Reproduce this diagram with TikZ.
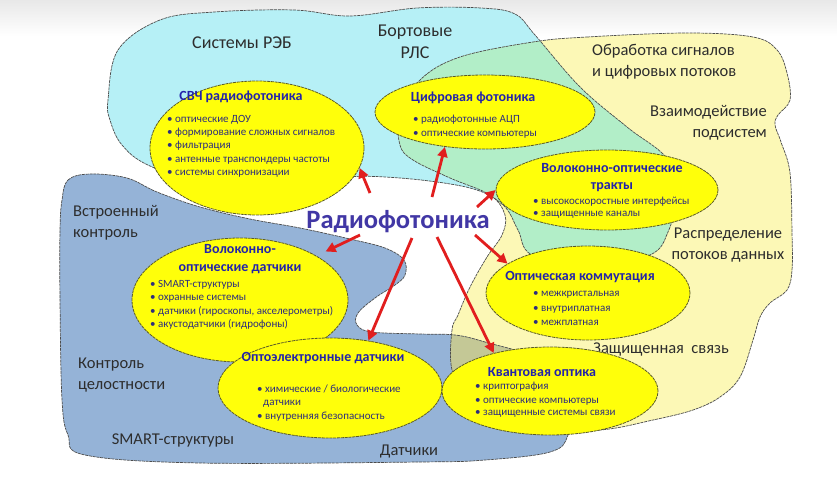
\documentclass[tikz,border=0pt]{standalone}
\usepackage{fontspec}
\setmainfont{Carlito}
\usetikzlibrary{arrows.meta,shapes.geometric}
\definecolor{cyanr}{RGB}{182,240,246}
\definecolor{yelr}{RGB}{252,248,182}
\definecolor{greenr}{RGB}{178,238,200}
\definecolor{bluer}{RGB}{149,179,215}
\definecolor{oliver}{RGB}{196,200,150}
\definecolor{bubyel}{RGB}{255,255,10}
\definecolor{bubline}{RGB}{90,90,40}
\definecolor{lblgray}{RGB}{45,45,45}
\definecolor{ttlblue}{RGB}{35,35,170}
\definecolor{itmblue}{RGB}{45,45,125}
\definecolor{rfblue}{RGB}{65,55,165}
\definecolor{arrred}{RGB}{225,30,30}
\tikzset{
  region/.style={draw=black!70, line width=0.7pt, dash pattern=on 3pt off 0.8pt},
  bub/.style={ellipse, draw=bubline, fill=bubyel, line width=0.8pt, dash pattern=on 3pt off 0.8pt, inner sep=0pt},
  lbl/.style={text=lblgray, font=\fontsize{16.5}{21}\selectfont, inner sep=0pt},
  biglbl/.style={text=lblgray, font=\fontsize{18}{22}\selectfont, inner sep=0pt},
  ttl/.style={text=ttlblue, font=\bfseries\fontsize{14}{16}\selectfont, inner sep=0pt, text height=10pt, text depth=3pt},
  itm/.style={text=itmblue, anchor=west, font=\fontsize{11}{12}\selectfont, inner sep=0pt, text height=7.5pt, text depth=2.5pt},
  arr/.style={draw=arrred, line width=2.8pt, -{Triangle[length=10pt,width=10pt]}}
}
\def\cyanpath{plot[smooth cycle, tension=0.6] coordinates {(108,100) (118,50) (160,20) (214,12) (294,10) (350,16) (417,8) (481,8) (515,14) (535,35) (580,87) (627,127) (668,160) (675,200) (668,232) (650,255) (590,268) (532,255) (518,230) (503,205) (470,188) (400,178) (340,178) (300,195) (220,190) (150,166) (122,145) (110,120)}}
\def\yelpath{plot[smooth cycle, tension=0.6] coordinates {(533,42) (587,37) (687,33) (753,37) (777,50) (787,73) (790,100) (778,115) (775,125) (781,142) (790,173) (792,233) (792,270) (787,290) (770,303) (760,317) (753,340) (740,377) (720,397) (693,410) (653,420) (600,430) (530,430) (470,405) (452,370) (452,330) (458,315) (470,287) (487,257) (502,235) (505,215) (490,195) (450,178) (413,160) (400,145) (400,115) (420,80) (460,57)}}
\def\bluepath{plot[smooth cycle, tension=0.6] coordinates {(62,200) (68,180) (90,174) (127,178) (157,192) (200,207) (250,219) (300,228) (350,239) (385,248) (404,260) (405,275) (395,285) (375,298) (358,313) (357,325) (372,332) (420,334) (455,335) (485,342) (540,360) (572,395) (568,435) (550,452) (485,460) (420,462) (200,463) (85,455) (68,435) (62,400) (60,300) (60,230)}}
\begin{document}
\begin{tikzpicture}[x=1pt,y=-1pt]
\useasboundingbox (0,0) rectangle (837,479);
\fill[white] (0,0) rectangle (837,479);
\shade[top color=black!9, bottom color=white] (0,0) rectangle (837,36);
% regions
\fill[cyanr] \cyanpath;
\fill[yelr] \yelpath;
\begin{scope}
  \clip \yelpath;
  \fill[greenr] \cyanpath;
\end{scope}
\fill[bluer] \bluepath;
\begin{scope}
  \clip \bluepath;
  \fill[oliver] \yelpath;
\end{scope}
\draw[region] \cyanpath;
\draw[region] \yelpath;
\draw[region] \bluepath;
% region labels
\node[biglbl] (l1) at (242,43) {Системы РЭБ};
\node[biglbl, align=center] (l2) at (415,42) {Бортовые\\РЛС};
\node[lbl, align=left, anchor=west] (l3) at (592,62) {Обработка сигналов\\и цифровых потоков};
\node[lbl, align=right, anchor=east] (l4) at (767,123) {Взаимодействие\\подсистем};
\node[lbl, align=center] (l5) at (728,245) {Распределение\\потоков данных};
\node[lbl] (l6) at (661,350) {Защищенная\ \ связь};
\node[lbl, align=left, anchor=west] (l7) at (73,223) {Встроенный\\контроль};
\node[lbl, align=left, anchor=west] (l8) at (78,375) {Контроль\\целостности};
\node[lbl] (l9) at (173,440) {SMART-структуры};
\node[lbl] (l10) at (409,451) {Датчики};
% bubbles
\node[bub, minimum width=214pt, minimum height=134pt] (svch) at (257,148) {};
\node[bub, minimum width=220pt, minimum height=74pt] (cifr) at (485,112) {};
\node[bub, minimum width=222pt, minimum height=80pt] (trakt) at (607,190) {};
\node[bub, minimum width=216pt, minimum height=124pt] (vod) at (240,300) {};
\node[bub, minimum width=204pt, minimum height=94pt] (optk) at (588,293) {};
\node[bub, minimum width=224pt, minimum height=100pt] (opto) at (330,388) {};
\node[bub, minimum width=216pt, minimum height=88pt] (kvant) at (550,391) {};
% center
\node[text=rfblue, font=\bfseries\fontsize{26.5}{30}\selectfont, inner sep=0pt] (rf) at (398,222) {Радиофотоника};
% arrows
\coordinate (s1) at (370,193);
\coordinate (s2) at (432,197);
\coordinate (s3) at (477,207);
\coordinate (s4) at (360,235);
\coordinate (s5) at (412,238);
\coordinate (s6) at (437,237);
\coordinate (s7) at (475,235);
\draw[arr] (s1) -- (svch.-11);
\draw[arr] (s2) -- (cifr.221);
\draw[arr] (s3) -- (trakt.180);
\draw[arr, shorten >=10pt] (s4) -- (vod.30);
\draw[arr] (s5) -- (opto.51);
\draw[arr] (s6) -- (kvant.146);
\draw[arr] (s7) -- (optk.160);
% bubble texts
\node[ttl] (t1) at (241,97) {СВЧ радиофотоника};
\node[itm] (i11) at (167,120) {\textbullet\ оптические ДОУ};
\node[itm] (i12) at (167,133) {\textbullet\ формирование сложных сигналов};
\node[itm] (i13) at (167,146) {\textbullet\ фильтрация};
\node[itm] (i14) at (167,160) {\textbullet\ антенные транспондеры частоты};
\node[itm] (i15) at (167,173) {\textbullet\ системы синхронизации};
\node[ttl] (t2) at (473,98) {Цифровая фотоника};
\node[itm] (i21) at (413,120) {\textbullet\ радиофотонные АЦП};
\node[itm] (i22) at (413,134) {\textbullet\ оптические компьютеры};
\node[ttl] (t3) at (612,169) {Волоконно-оптические};
\node[ttl] (t3b) at (612,186) {тракты};
\node[itm] (i31) at (533,202) {\textbullet\ высокоскоростные интерфейсы};
\node[itm] (i32) at (533,214) {\textbullet\ защищенные каналы};
\node[ttl] (t4) at (240,250) {Волоконно-};
\node[ttl] (t4b) at (240,268) {оптические датчики};
\node[itm] (i41) at (150,285) {\textbullet\ SMART-структуры};
\node[itm] (i42) at (150,298) {\textbullet\ охранные системы};
\node[itm] (i43) at (150,312) {\textbullet\ датчики (гироскопы, акселерометры)};
\node[itm] (i44) at (150,325) {\textbullet\ акустодатчики (гидрофоны)};
\node[ttl] (t5) at (580,277) {Оптическая коммутация};
\node[itm] (i51) at (533,294) {\textbullet\ межкристальная};
\node[itm] (i52) at (533,309) {\textbullet\ внутриплатная};
\node[itm] (i53) at (533,323) {\textbullet\ межплатная};
\node[ttl] (t6) at (323,358) {Оптоэлектронные датчики};
\node[itm] (i61) at (257,390) {\textbullet\ химические / биологические};
\node[itm] (i62) at (263,403) {датчики};
\node[itm] (i63) at (257,417) {\textbullet\ внутренняя безопасность};
\node[ttl] (t7) at (542,373) {Квантовая оптика};
\node[itm] (i71) at (475,387) {\textbullet\ криптография};
\node[itm] (i72) at (475,401) {\textbullet\ оптические компьютеры};
\node[itm] (i73) at (475,413) {\textbullet\ защищенные системы связи};
\end{tikzpicture}
\end{document}
